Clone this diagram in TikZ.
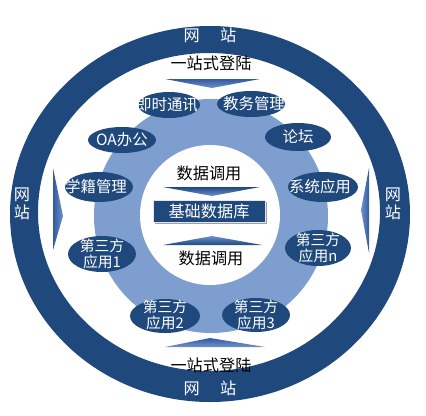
\documentclass[tikz,border=0pt]{standalone}
\usepackage{fontspec}
\setmainfont{Noto Sans CJK SC}
\usepackage{xcolor}
\usetikzlibrary{shadows}
\definecolor{navy}{RGB}{31,73,125}
\definecolor{ringlight}{RGB}{126,158,207}
\definecolor{chevdark}{RGB}{52,90,158}
\definecolor{chevlight}{RGB}{110,145,205}

\begin{document}
\begin{tikzpicture}[x=0.025cm, y=-0.025cm,
    app/.style={fill=navy},
    apptext/.style={text=white, inner sep=0pt, font=\fontsize{11pt}{13pt}\selectfont},
    apptwo/.style={text=white, inner sep=0pt, align=center, font=\fontsize{10.5pt}{11.5pt}\selectfont},
    ringtext/.style={text=white, inner sep=0pt, align=center, font=\fontsize{11.5pt}{13pt}\selectfont},
    plaintext/.style={text=black, inner sep=0pt, font=\fontsize{11.5pt}{13pt}\selectfont},
    dbbox/.style={fill=navy, draw=gray!20, text=white, minimum width=2.8cm, minimum height=0.55cm,
        inner sep=0pt, font=\fontsize{11.5pt}{13pt}\selectfont,
        drop shadow={shadow xshift=1.6pt, shadow yshift=-1.6pt, fill=gray!75, opacity=1}},
    chev/.style={top color=chevdark, bottom color=chevlight}]
    \useasboundingbox (0,0) rectangle (426,415);

    \fill[navy, even odd rule] (210,214) ellipse [x radius=200, y radius=188]
        (209,212) ellipse [x radius=171, y radius=159];
    \fill[ringlight] (211,216) circle [radius=117];
    \fill[white] (210,215) circle [radius=70];

    \shade[chev] (165,79) -- (260,79) -- (212,88) -- cycle;
    \shade[chev] (165,347) -- (265,347) -- (210,338) -- cycle;
    \shade[left color=chevdark, right color=chevlight] (53,168) -- (63,216) -- (53,250) -- cycle;
    \shade[left color=chevlight, right color=chevdark] (369,168) -- (361,210) -- (369,253) -- cycle;
    \shade[top color=navy, bottom color=chevlight] (163,187) -- (260,187) -- (212,196) -- cycle;
    \shade[top color=chevlight, bottom color=navy] (163,245) -- (262,245) -- (212,236) -- cycle;

    \node[ringtext] (webtop) at (210,35) {网\hspace{1.25em}站};
    \node[ringtext] (webbot) at (210,388) {网\hspace{1.25em}站};
    \node[ringtext] (webleft) at (22,204) {网\\站};
    \node[ringtext] (webright) at (393,204) {网\\站};

    \node[plaintext] (ssotop) at (211,63) {一站式登陆};
    \node[plaintext] (ssobot) at (211,365) {一站式登陆};
    \node[plaintext] (calltop) at (209,173) {数据调用};
    \node[plaintext] (callbot) at (211,258) {数据调用};

    \node[dbbox] (db) at (209,211) {基础数据库};

    \fill[app] (169,105) ellipse [x radius=31, y radius=13];
    \fill[app] (251,104) ellipse [x radius=34, y radius=13];
    \fill[app] (122,140) ellipse [x radius=34, y radius=13];
    \fill[app] (298,137) ellipse [x radius=33, y radius=14];
    \fill[app] (99,187) ellipse [x radius=34, y radius=15];
    \fill[app] (323,187) ellipse [x radius=35, y radius=15];
    \fill[app] (102,254) ellipse [x radius=34, y radius=18];
    \fill[app] (318,248) ellipse [x radius=33, y radius=18];
    \fill[app] (165,316) ellipse [x radius=35, y radius=17];
    \fill[app] (256,315) ellipse [x radius=34, y radius=17];

    \node[apptext] (im) at (167,105) {即时通讯};
    \node[apptext] (edu) at (254,104) {教务管理};
    \node[apptext] (oa) at (122,140) {OA办公};
    \node[apptext] (bbs) at (298,137) {论坛};
    \node[apptext] (stu) at (96,187) {学籍管理};
    \node[apptext] (sys) at (320,187) {系统应用};
    \node[apptwo] (app1) at (102,254) {第三方\\应用1};
    \node[apptwo] (appn) at (318,248) {第三方\\应用n};
    \node[apptwo] (app2) at (165,315) {第三方\\应用2};
    \node[apptwo] (app3) at (256,315) {第三方\\应用3};

\end{tikzpicture}
\end{document}
